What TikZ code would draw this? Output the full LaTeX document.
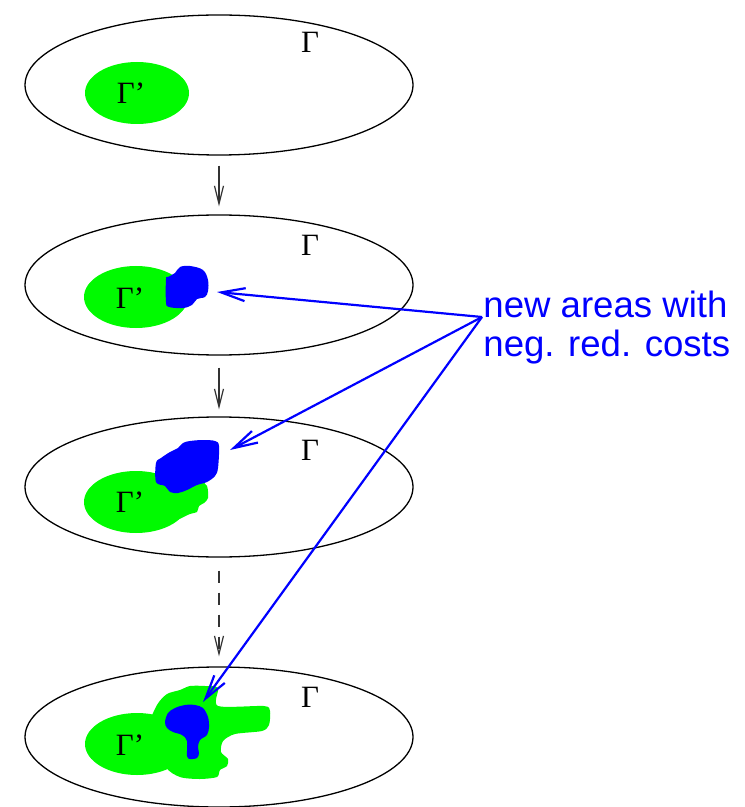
\documentclass[tikz,border=0pt]{standalone}
\usepackage{fontspec}
\setmainfont{Liberation Serif}
\newfontfamily\lblfont{Liberation Sans}
\usetikzlibrary{shapes.geometric,arrows.meta}
\definecolor{areagreen}{RGB}{0,250,0}
\definecolor{areablue}{RGB}{0,0,255}
\begin{document}
\begin{tikzpicture}[x=0.5pt,y=-0.5pt,
  outer/.style={ellipse, draw, line width=0.65pt, minimum width=194pt, minimum height=70pt, inner sep=0pt},
  inner/.style={ellipse, fill=areagreen, minimum width=52pt, minimum height=31pt, inner sep=0pt},
  greenarea/.style={fill=areagreen, draw=none},
  bluearea/.style={fill=areablue, draw=none},
  gamma/.style={font=\fontsize{15.5}{18}\selectfont, inner sep=0pt},
  flowarrow/.style={-{Straight Barb[length=9pt,width=4.5pt]}, line width=0.6pt, black!80},
  pointer/.style={areablue, line width=1.1pt, -{Straight Barb[length=12pt,width=6.5pt]}},
  lbl/.style={areablue, font=\lblfont\fontsize{18.3}{19}\selectfont, inner sep=0pt, anchor=base west}
]
\useasboundingbox (0,0) rectangle (744,807);

% outer sets
\node[outer] (e1) at (219,85) {};
\node[outer] (e2) at (219,285) {};
\node[outer] (e3) at (219,487) {};
\node[outer] (e4) at (219,737) {};

% --- stage 1
\node[inner] (s1) at (137,93) {};
% --- stage 2
\node[inner] (s2) at (136,297) {};
\fill[bluearea] plot[smooth cycle, tension=0.6] coordinates {
  (166,279) (166,302) (169,307) (183,308) (192,305) (197,299) (205,297)
  (208,291) (208,280) (203,270) (190,266) (180,267) (175,273) (168,277)};
% --- stage 3
\node[inner] (s3) at (136,502) {};
\fill[greenarea] plot[smooth cycle, tension=0.5] coordinates {
  (160,478) (180,486) (200,482) (207,486) (208,498) (204,503) (199,506)
  (197,512) (190,514) (170,521) (160,500)};
\fill[bluearea] plot[smooth cycle, tension=0.55] coordinates {
  (156,463) (156,482) (165,486) (170,492) (178,493) (187,490) (197,485)
  (207,482) (215,476) (218,468) (219,446) (215,441) (203,440) (190,441)
  (183,443) (178,448) (170,452) (161,458)};
% --- stage 4
\node[inner] (s4) at (137,744) {};
\fill[greenarea] plot[smooth cycle, tension=0.45] coordinates {
  (150,727) (157,705) (167,694) (180,690) (190,686) (205,686) (218,688)
  (218,706) (264,706) (270,711) (269,725) (262,731) (235,734) (223,741)
  (221,752) (228,759) (227,766) (220,770) (217,777) (200,779) (180,777) (165,766)};
\fill[bluearea] plot[smooth cycle, tension=0.55] coordinates {
  (165,722) (168,713) (175,708) (185,705) (195,705) (203,708) (208,717)
  (209,727) (207,735) (200,740) (198,747) (199,753) (197,758) (190,759)
  (187,756) (187,741) (182,735) (173,732) (167,728)};

% labels
\node[gamma] (G1) at (310,42) {Γ};
\node[gamma] (G2) at (310,245) {Γ};
\node[gamma] (G3) at (310,450) {Γ};
\node[gamma] (G4) at (310,697) {Γ};
\node[gamma] (P1) at (131,93) {Γ’};
\node[gamma] (P2) at (130,298) {Γ’};
\node[gamma] (P3) at (130,502) {Γ’};
\node[gamma] (P4) at (130,745) {Γ’};

% flow arrows
\draw[flowarrow, shorten <=5pt, shorten >=4pt] (e1) -- (e2);
\draw[flowarrow, shorten <=6pt, shorten >=3.5pt] (e2) -- (e3);
\draw[flowarrow, dash pattern=on 6pt off 5pt, shorten <=6.5pt, shorten >=5pt] (e3) -- (e4);

% annotation
\node[lbl] (L1) at (483,317) {new areas with};
\node[lbl] (L2) at (483,356) {neg. red. costs};
\coordinate (src) at (482,317);
\coordinate (t1) at (217,292);
\coordinate (t2) at (230,450);
\coordinate (t3) at (203,702);
\draw[pointer] (src) -- (t1);
\draw[pointer] (src) -- (t2);
\draw[pointer] (src) -- (t3);
\end{tikzpicture}
\end{document}
